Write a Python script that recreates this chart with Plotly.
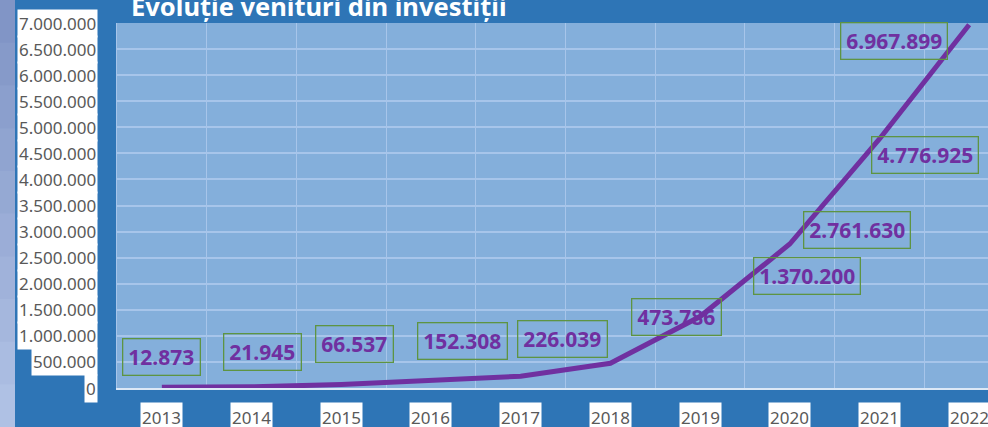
import plotly.graph_objects as go

# ---- data ----
years = [2013, 2014, 2015, 2016, 2017, 2018, 2019, 2020, 2021, 2022]
venituri = [12873, 21945, 66537, 152308, 226039, 473786, 1370200, 2761630, 4776925, 6967899]
y_ticks = [0, 500000, 1000000, 1500000, 2000000, 2500000, 3000000, 3500000,
           4000000, 4500000, 5000000, 5500000, 6000000, 6500000, 7000000]
title_text = "Evoluție venituri din investiții"

# ---- style ----
label_offsets = [(0, 30), (11, 35), (13, 41), (32, 39), (42, 37),
                 (66, 46), (107, 41), (67, 14), (46, -16), (-75, -16)]
DARK_BLUE = "#2E75B6"
PLOT_BG = "#84AFDB"
GRID = "#A7C5EA"
PURPLE = "#7030A0"
GREEN = "#5E9442"
FONT = "Noto Sans"


def fmt(v):
    return f"{v:,}".replace(",", ".")


fig = go.Figure()
fig.add_trace(go.Scatter(
    x=years, y=venituri, mode="lines",
    line=dict(color=PURPLE, width=5),
    hoverinfo="skip",
))

annotations = []
# data labels
for yr, v, (dx, dy) in zip(years, venituri, label_offsets):
    annotations.append(dict(
        x=yr, y=v, xref="x", yref="y", text=fmt(v), showarrow=False,
        xshift=dx, yshift=dy,
        font=dict(family=FONT, size=21, color=PURPLE, weight="bold"),
        bordercolor=GREEN, borderwidth=1.3, borderpad=5, height=25,
        bgcolor="rgba(0,0,0,0)",
    ))
# y tick labels (white boxes)
for v in y_ticks:
    annotations.append(dict(
        x=0, y=v, xref="paper", yref="y", text=fmt(v), showarrow=False,
        xanchor="right", xshift=-19,
        font=dict(family=FONT, size=17, color="#595959"),
        bgcolor="white", borderpad=1, height=25,
    ))
# x tick labels (white boxes)
for yr in years:
    annotations.append(dict(
        x=yr, y=-0.038, xref="x", yref="paper", text=str(yr), showarrow=False,
        yanchor="top",
        font=dict(family=FONT, size=17, color="#595959"),
        bgcolor="white", borderpad=1, height=26,
    ))
# title (cut off at top)
annotations.append(dict(
    x=0.0138, y=1, xref="paper", yref="paper", text=title_text, showarrow=False,
    xanchor="left", yanchor="bottom", yshift=-2,
    font=dict(family=FONT, size=25.5, color="white", weight="bold"),
))

# left light strip (approximate gradient)
shapes = []
top_c = (0x7F, 0x93, 0xC5)
bot_c = (0xB2, 0xC4, 0xE6)
n = 10
y_top = 1 + 23 / 365
y_bot = -39 / 365
for i in range(n):
    t = (i + 0.5) / n
    c = tuple(int(top_c[k] + (bot_c[k] - top_c[k]) * t) for k in range(3))
    shapes.append(dict(
        type="rect", xref="paper", yref="paper",
        x0=-117 / 871, x1=-102 / 871,
        y0=y_top - (y_top - y_bot) * (i + 1) / n - 0.002,
        y1=y_top - (y_top - y_bot) * i / n,
        fillcolor="rgb(%d,%d,%d)" % c, line=dict(width=0), layer="below",
    ))

fig.update_layout(
    width=988, height=427,
    margin=dict(l=117, r=0, t=23, b=39),
    paper_bgcolor=DARK_BLUE, plot_bgcolor=PLOT_BG,
    showlegend=False,
    annotations=annotations,
    shapes=shapes,
    xaxis=dict(
        range=[2012.5, 2022.21], tick0=2012.5, dtick=1,
        showgrid=True, gridcolor=GRID, gridwidth=1,
        showticklabels=False, ticks="", zeroline=False,
        showline=True, linecolor="#DCE8F6", linewidth=2,
        fixedrange=True,
    ),
    yaxis=dict(
        range=[0, 7000000], tickvals=y_ticks,
        showgrid=True, gridcolor=GRID, gridwidth=1.5,
        showticklabels=False, ticks="", zeroline=False,
        showline=True, linecolor=GRID, linewidth=1,
        fixedrange=True,
    ),
)

fig.write_html(
    "out.html",
    config=dict(displayModeBar=False),
    post_script="document.body.style.margin='0';document.body.style.overflow='hidden';",
)
